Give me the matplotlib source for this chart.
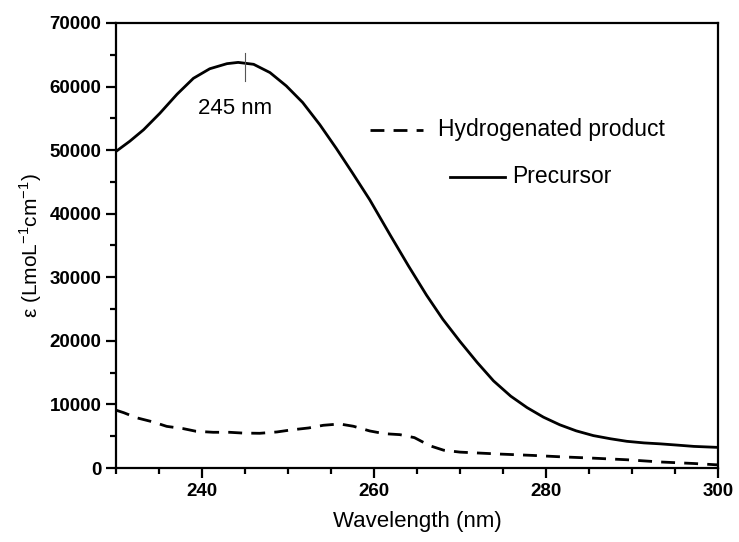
import numpy as np
import matplotlib
matplotlib.use('Agg')
import matplotlib.pyplot as plt

plt.rcParams['font.family'] = ['Liberation Sans', 'DejaVu Sans']
plt.rcParams['mathtext.fontset'] = 'custom'
plt.rcParams['mathtext.rm'] = 'Liberation Sans'

# Precursor spectrum (nm, L mol-1 cm-1)
prec_x = [230.1, 231.6, 233.2, 235.1, 237.1, 239.0, 240.9, 242.9, 244.2, 246.0,
          247.9, 249.8, 251.7, 253.7, 255.6, 257.5, 259.5, 261.9, 264.0, 266.1,
          268.0, 270.0, 272.0, 273.9, 275.9, 277.8, 279.7, 281.6, 283.5, 285.5,
          287.5, 289.4, 291.4, 293.3, 295.3, 297.2, 299.9]
prec_y = [49900, 51400, 53200, 55800, 58800, 61300, 62800, 63600, 63800, 63500,
          62200, 60100, 57500, 54000, 50300, 46400, 42200, 36600, 31800, 27200,
          23400, 19900, 16600, 13700, 11300, 9500, 8000, 6800, 5850, 5100,
          4600, 4200, 3950, 3800, 3600, 3400, 3250]

# Hydrogenated product spectrum
hyd_x = [230.0, 230.9, 232.4, 234.3, 235.9, 237.8, 239.3, 241.3, 243.2, 244.7,
         246.7, 248.7, 250.4, 252.4, 254.1, 256.0, 257.6, 259.5, 261.2, 263.0,
         264.7, 266.5, 268.1, 270.0, 274.7, 278.5, 281.6, 285.5, 289.4, 293.3,
         297.2, 299.9]
hyd_y = [9100, 8700, 7900, 7250, 6550, 6200, 5780, 5620, 5620, 5500,
         5460, 5670, 6000, 6300, 6720, 6930, 6570, 5830, 5400, 5250,
         4780, 3500, 2800, 2500, 2190, 1980, 1770, 1550, 1300, 950,
         710, 500]

peak_nm = 245

fig = plt.figure(figsize=(7.39, 5.42), dpi=100)
ax = fig.add_axes([0.157, 0.1365, 0.8146, 0.8211])

ax.plot(hyd_x, hyd_y, color='black', lw=2.0, dashes=(5, 3.3))
ax.plot(prec_x, prec_y, color='black', lw=2.0)

# peak marker
ax.plot([peak_nm, peak_nm], [60800, 65300], color='#555555', lw=0.8)
ax.text(peak_nm - 1.1, 56600, '%d nm' % peak_nm, ha='center', va='center', fontsize=16)

ax.set_xlim(230, 300)
ax.set_ylim(0, 70000)
ax.set_xticks([240, 260, 280, 300])
ax.set_xticks(np.arange(230, 301, 5), minor=True)
ax.set_yticks(np.arange(0, 70001, 10000))
ax.set_yticks(np.arange(0, 70001, 5000), minor=True)

for s in ax.spines.values():
    s.set_linewidth(1.6)
ax.tick_params(which='both', direction='out', top=False, right=False, width=1.6)
ax.tick_params(which='major', length=7, labelsize=13.5)
ax.tick_params(which='minor', length=4)
for lab in ax.get_xticklabels() + ax.get_yticklabels():
    lab.set_fontweight('bold')

ax.set_xlabel('Wavelength (nm)', fontsize=16, labelpad=8)
ax.set_ylabel(r'ε (LmoL$^{\mathregular{-1}}$cm$^{\mathregular{-1}}$)', fontsize=15, labelpad=4)

# legend keys drawn by hand
tr = ax.transAxes
ax.plot([0.422, 0.510], [0.760, 0.760], transform=tr, color='black', lw=2.0, dashes=(5, 3.3))
ax.text(0.535, 0.760, 'Hydrogenated product', transform=tr, va='center', fontsize=16.5)
ax.plot([0.555, 0.646], [0.654, 0.654], transform=tr, color='black', lw=2.0)
ax.text(0.658, 0.654, 'Precursor', transform=tr, va='center', fontsize=16.5)

fig.savefig('out.png', dpi=100)
